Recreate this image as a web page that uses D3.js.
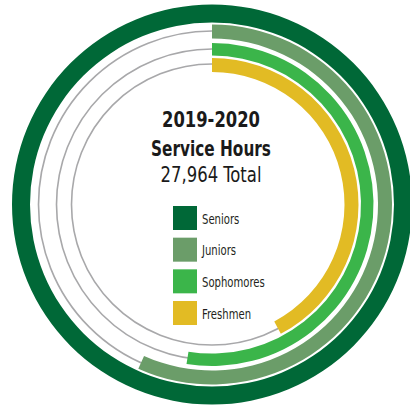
<!DOCTYPE html>
<html>
<head>
<meta charset="utf-8">
<script src="https://cdn.jsdelivr.net/npm/d3@7"></script>
<style>
  html, body { margin: 0; padding: 0; background: #fff; }
  svg { display: block; }
  text { font-family: "DejaVu Sans Condensed", "DejaVu Sans", sans-serif; }
</style>
</head>
<body>
<svg id="chart" width="410" height="407"></svg>
<script>
// ---- data ----
const categories = ["Seniors", "Juniors", "Sophomores", "Freshmen"];
const hours = [11121, 6307, 5841, 4695];
const colors = ["#006837", "#6b9d69", "#3bb54a", "#e2bb24"];
const titleLines = ["2019-2020", "Service Hours"];
const totalLabel = d3.format(",")(d3.sum(hours)) + " Total";

// ---- layout ----
const cx = 212, cy = 204.5;
const bands = [[182, 200], [166, 180], [149, 161.5], [132.5, 146.5]];
const trackR = [null, 173.5, 155.5, 140.5];

const svg = d3.select("#chart");
const g = svg.append("g").attr("transform", `translate(${cx},${cy})`);

const angle = d3.scaleLinear().domain([0, d3.max(hours)]).range([0, 2 * Math.PI]);

g.selectAll("circle.track")
  .data(categories.map((c, i) => ({ c, r: trackR[i] })).filter(d => d.r))
  .join("circle")
  .attr("class", "track")
  .attr("r", d => d.r)
  .attr("fill", "none")
  .attr("stroke", "#a8a8aa")
  .attr("stroke-width", 1.6);

const arc = d3.arc();
g.selectAll("path.bar")
  .data(categories.map((c, i) => ({ c, v: hours[i], i })))
  .join("path")
  .attr("class", "bar")
  .attr("fill", d => colors[d.i])
  .attr("d", d => arc({
    innerRadius: bands[d.i][0],
    outerRadius: bands[d.i][1],
    startAngle: 0,
    endAngle: angle(d.v)
  }));

// narrow text helper: squeezes text horizontally to the given width
function narrowText(parent, x, y, str, size, weight, anchor, width) {
  const t = parent.append("text")
    .attr("font-size", size).attr("font-weight", weight)
    .attr("fill", "#1a1a1a").attr("text-anchor", anchor).text(str);
  const w = t.node().getComputedTextLength();
  const s = width / w;
  t.attr("transform", `translate(${x},${y}) scale(${s},1)`);
  return t;
}

const tx = 211;
narrowText(svg, tx, 127, titleLines[0], 22, "bold", "middle", 98);
narrowText(svg, tx, 156, titleLines[1], 21, "bold", "middle", 120);
narrowText(svg, tx, 182, totalLabel, 21, "normal", "middle", 101);

// legend
const ly = d3.scalePoint().domain(categories).range([206, 301]);
const leg = svg.append("g").selectAll("g").data(categories).join("g")
  .attr("transform", d => `translate(173,${ly(d)})`);
leg.append("rect").attr("width", 24).attr("height", 24)
  .attr("fill", (d, i) => colors[i]);
leg.each(function(d) {
  const t = d3.select(this).append("text")
    .attr("font-size", 14).attr("fill", "#231f20").text(d);
  t.attr("transform", "translate(29,17.5) scale(0.8,1)");
});
</script>
</body>
</html>
